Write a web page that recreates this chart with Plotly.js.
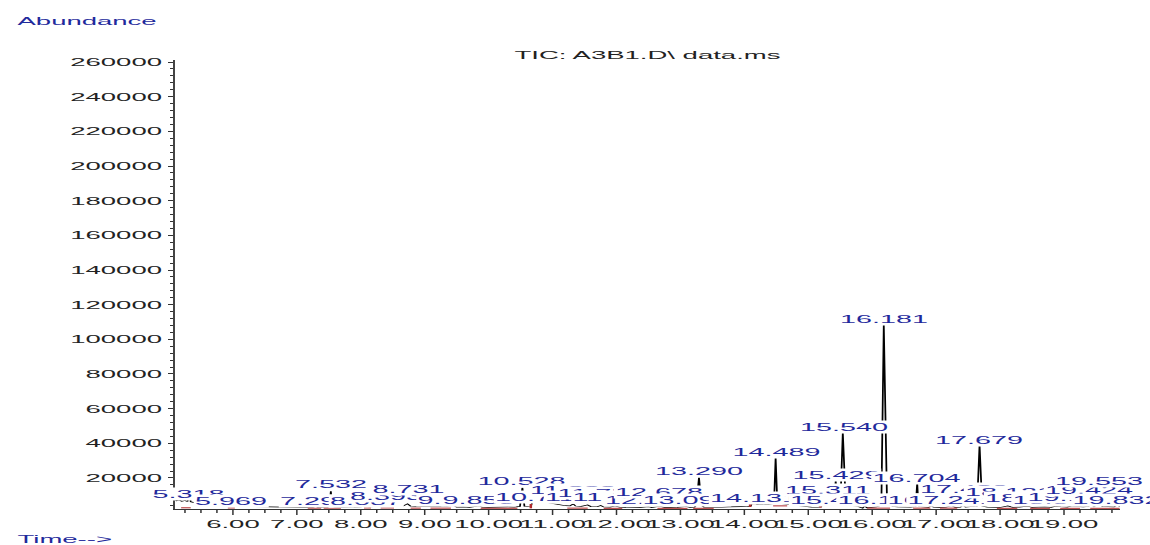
<!DOCTYPE html>
<html>
<head>
<meta charset="utf-8">
<script src="https://cdn.plot.ly/plotly-3.0.1.min.js"></script>
<style>
  html, body { margin: 0; padding: 0; background: #ffffff; overflow: hidden; }
  #wrap { position: absolute; left: 0; top: 0; width: 460px; height: 545px;
          transform: scaleX(2.5); transform-origin: 0 0; }
</style>
</head>
<body>
<div id="wrap"><div id="chart"></div></div>
<script>
// ---------------- DATA ----------------
const chartTitle = 'TIC: A3B1.D\\ data.ms';
const yAxisLabel = 'Abundance';
const xAxisLabel = 'Time-->';

// TIC trace: retention time (min) and abundance
const rt = [
  5.094, 5.12, 5.16, 5.20, 5.25, 5.29, 5.318, 5.34, 5.38, 5.45, 5.52, 5.60, 5.68, 5.76, 5.84, 5.92, 5.95, 5.969, 5.99,
  6.05, 6.15, 6.25, 6.35, 6.45, 6.55, 6.65, 6.75, 6.85, 6.95, 7.05, 7.15, 7.25, 7.297, 7.33, 7.40, 7.48, 7.51, 7.532,
  7.55, 7.60, 7.70, 7.80, 7.90, 8.00, 8.087, 8.13, 8.20, 8.30, 8.393, 8.45, 8.55, 8.65, 8.731, 8.78, 8.90, 9.00, 9.10,
  9.20, 9.30, 9.452, 9.50, 9.60, 9.70, 9.853, 9.90, 10.00, 10.10, 10.20, 10.30, 10.40, 10.49, 10.528, 10.56, 10.62,
  10.66, 10.68, 10.72, 10.783, 10.84, 10.90, 10.95, 11.00, 11.05, 11.12, 11.20, 11.27, 11.322, 11.36, 11.45, 11.548,
  11.60, 11.70, 11.753, 11.80, 11.90, 11.978, 12.05, 12.15, 12.25, 12.35, 12.498, 12.55, 12.678, 12.75, 12.85, 12.95,
  13.091, 13.15, 13.22, 13.25, 13.290, 13.33, 13.37, 13.45, 13.55, 13.65, 13.75, 13.85, 13.95, 14.05, 14.10, 14.115,
  14.131, 14.16, 14.20, 14.28, 14.36, 14.44, 14.465, 14.489, 14.515, 14.56, 14.65, 14.75, 14.85, 14.95, 15.05, 15.15,
  15.20, 15.22, 15.27, 15.311, 15.35, 15.38, 15.405, 15.429, 15.45, 15.505, 15.540, 15.585, 15.63, 15.70, 15.78, 15.85,
  15.88, 15.92, 16.00, 16.06, 16.12, 16.145, 16.181, 16.23, 16.27, 16.32, 16.40, 16.50, 16.60, 16.68, 16.704, 16.73,
  16.80, 16.88, 16.921, 16.96, 17.05, 17.15, 17.241, 17.30, 17.38, 17.420, 17.46, 17.55, 17.64, 17.679, 17.72, 17.80,
  17.90, 18.00, 18.121, 18.20, 18.30, 18.433, 18.50, 18.60, 18.70, 18.80, 18.867, 18.95, 19.05, 19.112, 19.20, 19.30,
  19.38, 19.424, 19.47, 19.553, 19.60, 19.70, 19.78, 19.832, 19.876
];
const abundance = [
  7600, 6900, 7300, 6600, 7000, 6400, 10600, 6200, 5900, 5500, 5300, 4900, 4800, 4500, 4400, 4100, 4500, 5700, 4300,
  3900, 3700, 3500, 3400, 3500, 3300, 3200, 3300, 3100, 3200, 3000, 3100, 3000, 3700, 3000, 3100, 3200, 3900, 12300,
  3700, 3100, 3000, 3200, 3000, 3300, 3900, 3300, 3500, 3600, 4900, 3700, 3900, 3600, 5100, 3700, 3400, 3300, 3500,
  3200, 3400, 4200, 3200, 3300, 3100, 3900, 3100, 3000, 3200, 3100, 3300, 3200, 3600, 14300, 3700, 3400,
  3500, 5800, 6300, 6700, 6000, 6400, 5600, 5300, 4700, 4300, 4000, 3900, 5000, 3800, 3600, 4400,
  3500, 3400, 4100, 3300, 3200, 3900, 3100, 3000, 3100, 2900, 3500, 2900, 3700, 3000, 2900, 3000,
  3600, 3000, 3100, 4500, 20200, 4200, 3100, 3000, 3200, 3100, 3300, 3200, 3500, 3600, 3700, 5400,
  5900, 5400, 4800, 5000, 4700, 5200, 6100, 31800, 6200, 5300, 4900, 4300, 3800, 3500, 3200, 3100,
  3300, 5900, 6100, 7000, 6100, 6300, 7200, 18300, 7000, 8300, 46300, 6600, 4800, 4000, 3600, 2600,
  3800, 2800, 3100, 3300, 4100, 9000, 108500, 9400, 5000, 3600, 3300, 3100, 3200, 3500, 17200, 3600,
  3200, 3100, 3900, 3100, 3000, 3100, 4000, 3100, 3200, 4300, 3200, 3300, 3800, 39200, 3800, 3200,
  3100, 3000, 3900, 3100, 3200, 3800, 3000, 3200, 3300, 3100, 3700, 3400, 3200, 3800, 3500, 3300,
  3600, 4700, 3500, 5200, 3600, 3400, 3300, 4400, 3500
];

// Integration baselines (red), segments separated by null
const baseT = [
  5.19, 5.34, null, 5.92, 6.03, null, 7.17, 7.38, null, 7.42, 7.69, null, 8.05, 8.16, null, 8.31, 8.52, null,
  8.78, 8.94, null, 9.09, 9.41, null, 9.875, 10.45, null, 10.66, 10.66, null, 11.23, 11.55, null, 11.80, 12.09, null,
  12.64, 13.11, null, 13.20, 13.52, null, 14.09, 14.09, 14.17, null, 14.45, 14.67, null, 15.19, 15.19, 15.30, null,
  15.92, 16.28, null, 16.64, 16.91, null, 17.06, 17.33, null, 17.95, 18.27, null, 18.47, 18.78, null,
  18.94, 19.25, null, 19.41, 19.87
];
const baseA = [
  2800, 2800, null, 2700, 2700, null, 2600, 2600, null, 2600, 2600, null, 2700, 2700, null, 2700, 2700, null,
  2600, 2600, null, 2600, 2600, null, 2500, 2500, null, 2500, 5000, null, 2600, 2600, null, 2500, 2500, null,
  2500, 2500, null, 2500, 2500, null, 3200, 5200, 5200, null, 3900, 3900, null, 3000, 5600, 5600, null,
  2600, 2600, null, 2600, 2600, null, 2600, 2600, null, 2500, 2500, null, 2500, 2500, null,
  2500, 2500, null, 2500, 2500
];

// Labelled peaks (retention times)
const peakRT = [
  5.318, 5.969, 7.297, 7.532, 8.087, 8.393, 8.731, 9.452, 9.853, 10.528, 10.783, 11.322, 11.548, 11.753, 11.978,
  12.498, 12.678, 13.091, 13.290, 14.131, 14.489, 15.311, 15.405, 15.429, 15.540, 16.164, 16.181, 16.704, 16.921,
  17.241, 17.420, 17.679, 18.121, 18.433, 18.867, 19.112, 19.424, 19.553, 19.832
];

// Axis ticks
const xTickStep = 1;       // minutes
const yTickStep = 20000;   // abundance

// ---------------- LAYOUT / STYLE ----------------
// vertical level (in abundance units) where each peak label is stacked
const labelLevel = [
  10800, 6700, 6700, 16500, 6700, 9600, 13600, 7300, 7300, 18300, 9000, 13100, 9000, 11300, 9000,
  7300, 11900, 7300, 24000, 8500, 35000, 13100, 7300, 21700, 49400, 7300, 111700, 20000, 7300,
  7300, 13600, 41900, 11900, 8500, 7300, 9000, 13100, 18300, 7300
];

const FONT = '"Liberation Sans", Arial, Helvetica, sans-serif';
const BLUE = '#1f2a9c';
const INK = '#222222';

const traces = [
  {
    x: rt, y: abundance, type: 'scatter', mode: 'lines',
    line: { color: '#000000', width: 0.7 }, hoverinfo: 'skip', cliponaxis: true
  },
  {
    x: baseT, y: baseA, type: 'scatter', mode: 'lines', connectgaps: false,
    line: { color: '#b0282a', width: 1 }, hoverinfo: 'skip'
  }
];

const annotations = peakRT.map((t, i) => ({
  x: t, y: labelLevel[i], xref: 'x', yref: 'y',
  text: t.toFixed(3), showarrow: false,
  xanchor: 'center', yanchor: 'middle',
  bgcolor: '#ffffff', borderpad: 0,
  font: { family: FONT, size: 11.5, color: BLUE }
}));

annotations.push({
  x: -0.1712, y: 1.0869, xref: 'paper', yref: 'paper', text: yAxisLabel, showarrow: false,
  xanchor: 'left', yanchor: 'middle', font: { family: FONT, size: 11, color: BLUE }
});
annotations.push({
  x: -0.1712, y: -0.0668, xref: 'paper', yref: 'paper', text: xAxisLabel, showarrow: false,
  xanchor: 'left', yanchor: 'middle', font: { family: FONT, size: 11, color: BLUE }
});

const layout = {
  width: 460, height: 545,
  margin: { l: 69.6, r: 12, t: 60, b: 36, pad: 0 },
  paper_bgcolor: '#ffffff', plot_bgcolor: '#ffffff',
  showlegend: false,
  font: { family: FONT, size: 11, color: INK },
  title: {
    text: chartTitle, x: 0.5, xref: 'paper', xanchor: 'center',
    y: 1 - 55.5 / 545, yref: 'container', yanchor: 'middle',
    font: { family: FONT, size: 11, color: INK }
  },
  xaxis: {
    range: [5.094, 19.876], tickmode: 'linear', tick0: 0, dtick: xTickStep, tickformat: '.2f',
    ticks: 'outside', ticklen: 5, tickwidth: 0.6, tickcolor: '#333',
    showline: true, linecolor: '#333', linewidth: 1,
    showgrid: false, zeroline: false, tickangle: 0, fixedrange: true,
    tickfont: { family: FONT, size: 11, color: INK },
    minor: { dtick: 0.25, ticks: 'outside', ticklen: 3, tickwidth: 0.6, tickcolor: '#333', showgrid: false }
  },
  yaxis: {
    range: [2100, 261170], tickmode: 'linear', tick0: 0, dtick: yTickStep, tickformat: 'd',
    ticks: 'outside', ticklen: 2, tickwidth: 1, tickcolor: '#333',
    showline: true, linecolor: '#444', linewidth: 1,
    showgrid: false, zeroline: false, fixedrange: true,
    tickfont: { family: FONT, size: 11, color: INK },
    minor: { dtick: 4000, ticks: 'outside', ticklen: 1, tickwidth: 1, tickcolor: '#333', showgrid: false }
  },
  annotations: annotations
};

Plotly.newPlot('chart', traces, layout, { staticPlot: true, displayModeBar: false, responsive: false });
</script>
</body>
</html>
